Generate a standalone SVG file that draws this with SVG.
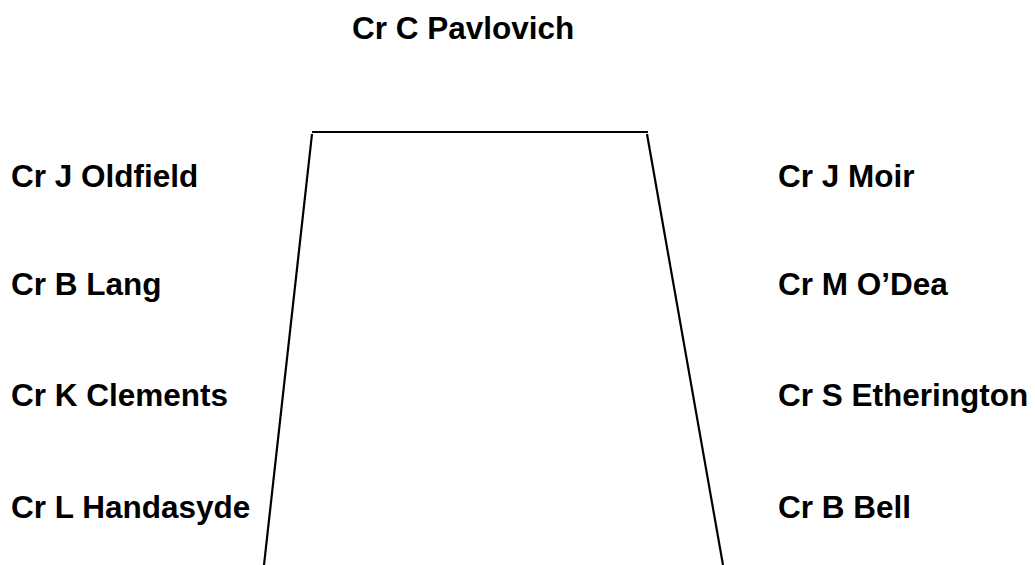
<svg xmlns="http://www.w3.org/2000/svg" width="1035" height="565" viewBox="0 0 1035 565">
<style>
.t{font-family:"Liberation Sans",Arial,sans-serif;font-weight:bold;font-size:31.5px;fill:#000}
.ln{stroke:#000;stroke-width:2.2;fill:none}
</style>
<rect width="1035" height="565" fill="#fff"/>
<g id="table">
<line class="ln" x1="312" y1="132" x2="648" y2="132"/>
<line class="ln" x1="312" y1="134" x2="264" y2="565"/>
<line class="ln" x1="647" y1="134" x2="723" y2="565"/>
</g>
<g id="chair"><text class="t" x="352" y="39">Cr C Pavlovich</text></g>
<g id="left">
<text class="t" x="11" y="187">Cr J Oldfield</text>
<text class="t" x="11" y="295">Cr B Lang</text>
<text class="t" x="11" y="406">Cr K Clements</text>
<text class="t" x="11" y="518">Cr L Handasyde</text>
</g>
<g id="right">
<text class="t" x="778" y="187">Cr J Moir</text>
<text class="t" x="778" y="295">Cr M O’Dea</text>
<text class="t" x="778" y="406">Cr S Etherington</text>
<text class="t" x="778" y="518">Cr B Bell</text>
</g>
</svg>
